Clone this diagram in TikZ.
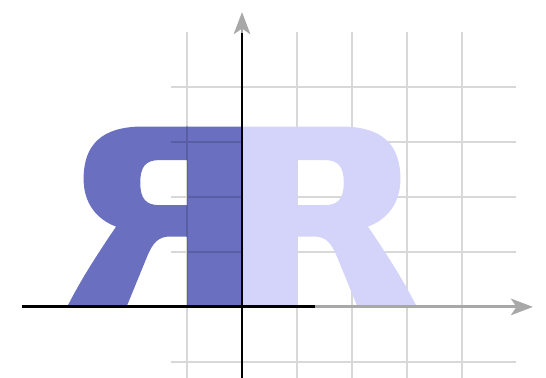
\documentclass[tikz,border=0pt]{standalone}
\usetikzlibrary{arrows.meta}
\definecolor{darkR}{RGB}{107,111,191}
\definecolor{lightR}{RGB}{212,212,250}
\definecolor{gridc}{RGB}{216,216,216}
\definecolor{gridonR}{RGB}{90,94,165}
\definecolor{axisgray}{RGB}{168,168,168}
\tikzset{
  gridline/.style={draw=gridc, line width=1.1pt},
  graxis/.style={draw=axisgray, line width=1.5pt, -{Stealth[length=0.4cm,width=0.3cm,inset=0.1cm]}},
  blaxis/.style={draw=black, line width=1.5pt},
}
\def\myRpath{(0,0) -- (0,3.28) -- (1.8,3.28)
      .. controls (2.55,3.28) and (2.88,2.95) .. (2.88,2.33)
      .. controls (2.88,1.9) and (2.66,1.6) .. (2.29,1.46)
      .. controls (2.6,1.0) and (2.9,0.55) .. (3.18,0)
      -- (2.1,0) -- (1.74,0.88)
      .. controls (1.62,1.18) and (1.52,1.28) .. (1.3,1.28)
      -- (1,1.28) -- (1,0) -- cycle
      (1,1.85) -- (1,2.67) -- (1.5,2.67)
      .. controls (1.75,2.67) and (1.85,2.55) .. (1.85,2.26)
      .. controls (1.85,1.97) and (1.75,1.85) .. (1.5,1.85) -- cycle}
\begin{document}
\begin{tikzpicture}
\useasboundingbox (-4.4,-1.29) rectangle (5.527,5.58);
\coordinate (O) at (0,0);
\coordinate (xs) at (-4,0);
\coordinate (xb) at (1.33,0);
\coordinate (xe) at (5.29,0);
\coordinate (ys) at (0,-1.35);
\coordinate (yb) at (0,4.98);
\coordinate (ye) at (0,5.36);
% grid
\draw[gridline, step=1] (-1.3,-1.3) grid (4.99,4.99);
% right R (light, opaque)
\fill[lightR, even odd rule] \myRpath;
% mirrored R (dark)
\begin{scope}[xscale=-1]
  \fill[darkR, even odd rule] \myRpath;
  \begin{scope}[even odd rule]
    \clip \myRpath;
    \draw[draw=gridonR, line width=1.1pt] (0,1) -- (1.3,1) (0,2) -- (1.3,2) (0,3) -- (1.3,3) (1,0) -- (1,3.3);
  \end{scope}
\end{scope}
% axes
\draw[graxis] (xs) -- (xe);
\draw[graxis] (ys) -- (ye);
\draw[blaxis] (xs) -- (xb);
\draw[blaxis] (ys) -- (yb);
\end{tikzpicture}
\end{document}
